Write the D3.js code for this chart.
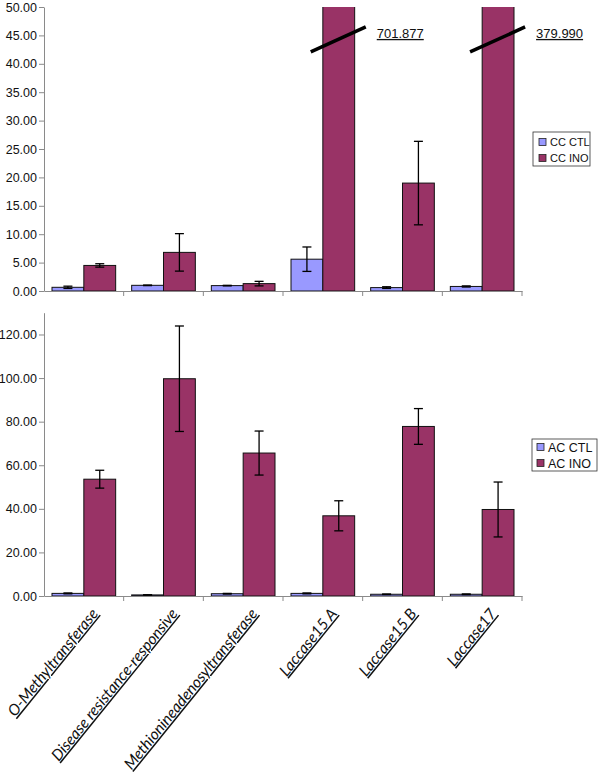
<!DOCTYPE html>
<html><head><meta charset="utf-8">
<script src="https://cdn.jsdelivr.net/npm/d3@7/dist/d3.min.js"></script>
<style>
body{margin:0;background:#fff;}
svg{display:block;}
</style></head>
<body>
<svg id="chart" width="600" height="781"></svg>
<script>
const categories = ["O-Methyltransferase","Disease resistance-responsive","Methionineadenosyltransferase","Laccase15 A","Laccase15 B","Laccase17"];
const ccCtl    = [0.65, 1.0, 0.95, 5.6, 0.6, 0.8];
const ccCtlErr = [0.2, 0.05, 0.05, 2.15, 0.15, 0.1];
const ccIno    = [4.5, 6.8, 1.3, 701.877, 19.0, 379.990];
const ccInoErr = [0.3, 3.3, 0.4, 0, 7.35, 0];
const acCtl    = [1.2, 0.5, 1.05, 1.2, 0.8, 0.8];
const acCtlErr = [0.2, 0.05, 0.15, 0.2, 0.1, 0.15];
const acIno    = [53.6, 99.7, 65.6, 36.8, 77.8, 39.7];
const acInoErr = [4.1, 24.2, 10.1, 6.9, 8.2, 12.6];
const ccTicks = [0,5,10,15,20,25,30,35,40,45,50];
const acTicks = [0,20,40,60,80,100,120];
const ccSeries = ["CC CTL","CC INO"];
const acSeries = ["AC CTL","AC INO"];
const colors = ["#9999FF","#993366"];

const svg = d3.select("#chart");
const axisColor = "#8a8a8a";
const x = d3.scaleBand().domain(categories).range([44,522]).padding(0);
const sub = d3.scaleBand().domain([0,1]).range([8, x.bandwidth()-8]).padding(0);

function panel(cfg){
  const {y, ctl, ctlErr, ino, inoErr, ticks, series, legend, clipId} = cfg;
  const g = svg.append("g");
  const [y0, yTop] = y.range();
  svg.append("clipPath").attr("id", clipId).append("rect")
    .attr("x", 44).attr("y", yTop).attr("width", 478).attr("height", y0 - yTop + 2);
  const bars = g.append("g").attr("clip-path", `url(#${clipId})`);
  const data = categories.map((c,i)=>[
    {c, s:0, v:ctl[i], e:ctlErr[i]},
    {c, s:1, v:ino[i], e:inoErr[i]}
  ]).flat();
  bars.selectAll("rect").data(data).join("rect")
    .attr("x", d=>x(d.c)+sub(d.s))
    .attr("width", sub.bandwidth())
    .attr("y", d=>y(d.v))
    .attr("height", d=>y(0)-y(d.v))
    .attr("fill", d=>colors[d.s])
    .attr("stroke", "#111").attr("stroke-width", 1);
  const eb = g.append("g").attr("stroke","#000").attr("stroke-width",1.3);
  data.filter(d=>d.e>0 && d.v<=y.domain()[1]).forEach(d=>{
    const cx = x(d.c)+sub(d.s)+sub.bandwidth()/2;
    const ya = y(d.v+d.e), yb = y(Math.max(0,d.v-d.e));
    eb.append("line").attr("x1",cx).attr("x2",cx).attr("y1",ya).attr("y2",yb);
    eb.append("line").attr("x1",cx-4.5).attr("x2",cx+4.5).attr("y1",ya).attr("y2",ya);
    eb.append("line").attr("x1",cx-4.5).attr("x2",cx+4.5).attr("y1",yb).attr("y2",yb);
  });
  const yax = g.append("g").attr("transform","translate(44,0)")
    .call(d3.axisLeft(y).tickValues(ticks).tickFormat(d3.format(".2f")).tickSize(5).tickSizeOuter(0).tickPadding(2));
  yax.selectAll("path,line").attr("stroke", axisColor);
  yax.selectAll("text").attr("font-family","Liberation Sans, Arial, sans-serif").attr("font-size","12.5px").attr("fill","#111");
  const xa = g.append("g").attr("transform",`translate(0,${y(0)})`)
    .call(d3.axisBottom(x).tickSize(0).tickSizeOuter(0).tickFormat(""));
  xa.select("path").attr("stroke", axisColor);
  const bounds = categories.map(c=>x(c)).concat([x.range()[1]]).slice(1);
  xa.selectAll("line.bd").data(bounds).join("line").attr("class","bd")
    .attr("x1",d=>d).attr("x2",d=>d).attr("y1",0).attr("y2",5).attr("stroke",axisColor);
  const lg = svg.append("g").attr("transform",`translate(${legend.x},${legend.y})`);
  lg.append("rect").attr("width",legend.w).attr("height",legend.h).attr("fill","#fff").attr("stroke","#333").attr("stroke-width",0.8);
  series.forEach((s,i)=>{
    const ry = legend.pad + i*legend.row;
    lg.append("rect").attr("x",legend.sx).attr("y",ry-3.5).attr("width",7).attr("height",7)
      .attr("fill",colors[i]).attr("stroke","#222").attr("stroke-width",0.8);
    lg.append("text").attr("x",legend.sx+11).attr("y",ry).attr("dy","0.36em")
      .attr("font-family","Liberation Sans, Arial, sans-serif").attr("font-size",legend.fs+"px").attr("fill","#111").text(s);
  });
  return {g, data};
}

const yScaleTop = d3.scaleLinear().domain([0,50]).range([291,7]);
const topPanel = panel({y:yScaleTop, ctl:ccCtl, ctlErr:ccCtlErr, ino:ccIno, inoErr:ccInoErr, ticks:ccTicks, series:ccSeries,
  clipId:"clipTop", legend:{x:533,y:132,w:57,h:34,pad:10,row:16,sx:6,fs:11}});
const yScaleBot = d3.scaleLinear().domain([0,130]).range([596,312.7]);
panel({y:yScaleBot, ctl:acCtl, ctlErr:acCtlErr, ino:acIno, inoErr:acInoErr, ticks:acTicks, series:acSeries,
  clipId:"clipBot", legend:{x:532,y:439,w:65,h:32,pad:8,row:16,sx:5,fs:12.5}});

topPanel.data.filter(d=>d.v>yScaleTop.domain()[1]).forEach(d=>{
  const cx = x(d.c)+sub(d.s)+sub.bandwidth()/2;
  const yb = yScaleTop(44.2);
  svg.append("line").attr("x1",cx-28).attr("y1",yb+12).attr("x2",cx+27).attr("y2",yb-13)
    .attr("stroke","#000").attr("stroke-width",3.5);
  svg.append("text").attr("x",cx+38).attr("y",yb-2)
    .attr("font-family","Liberation Sans, Arial, sans-serif").attr("font-size","13px").attr("fill","#111")
    .attr("text-decoration","underline").text(d3.format(".3f")(d.v));
});

const lab = svg.append("g");
categories.forEach(c=>{
  const cx = x(c)+x.bandwidth()/2;
  lab.append("text").attr("transform",`translate(${cx+15},614) rotate(-51)`)
    .attr("text-anchor","end")
    .attr("font-family","Lato, 'Open Sans', sans-serif").attr("font-style","italic").attr("font-size","15.5px")
    .attr("fill","#111").attr("text-decoration","underline").text(c);
});
</script>
</body></html>
